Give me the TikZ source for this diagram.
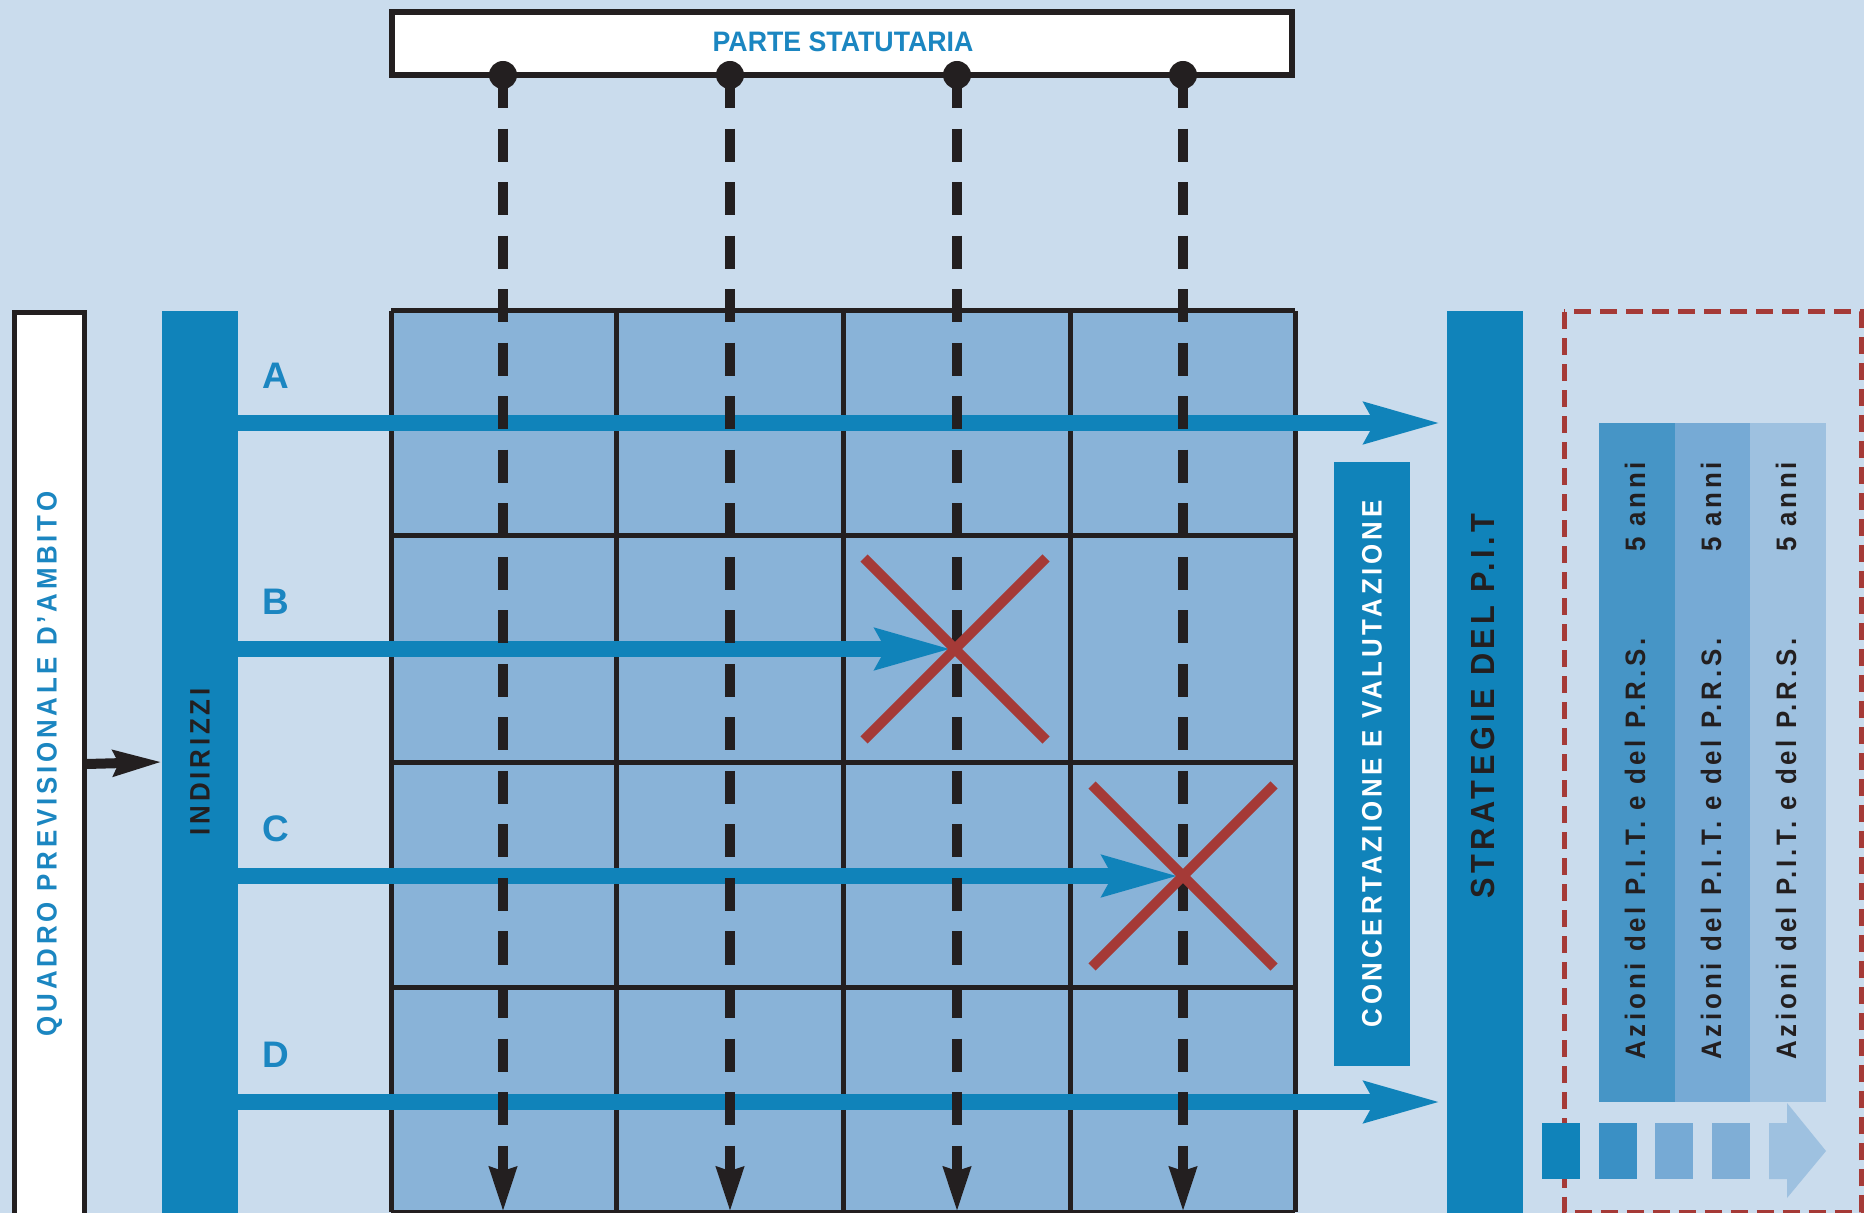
\documentclass[tikz,border=0pt]{standalone}
\usepackage{fontspec}
\setmainfont{Liberation Sans}
\newfontfamily\condfont{Liberation Sans}[FakeStretch=0.92,LetterSpace=13.5]
\newfontfamily\headfont{Liberation Sans}[FakeStretch=0.95]
\usetikzlibrary{arrows.meta}

\definecolor{bgblue}{HTML}{CADCED}
\definecolor{cellblue}{HTML}{89B3D8}
\definecolor{pitblue}{HTML}{1083BA}
\definecolor{txtblue}{HTML}{1B86C1}
\definecolor{crossred}{HTML}{A53A37}
\definecolor{inkblack}{HTML}{231F20}
\definecolor{stepA}{HTML}{4695C6}
\definecolor{stepB}{HTML}{76AAD5}
\definecolor{stepC}{HTML}{9EC1E0}
\definecolor{sqB}{HTML}{3A90C5}
\definecolor{sqD}{HTML}{7FAED6}

\tikzset{
  celline/.style={draw=inkblack, line width=0.5mm},
  bar/.style={fill=pitblue, inner sep=0, outer sep=0},
  whitebox/.style={draw=inkblack, fill=white, line width=0.5mm, inner sep=0},
  flowarrow/.style={pitblue, line width=1.6mm, -{Stealth[length=7.5mm, width=3.9mm, inset=0.9mm]}},
  downarrow/.style={inkblack, line width=1mm, dash pattern=on 3.3mm off 2.05mm, -{Stealth[length=4.4mm, width=2.6mm, inset=0.3mm]}},
  feedarrow/.style={inkblack, line width=1mm, -{Stealth[length=4.8mm, width=2.5mm, inset=0.5mm]}},
  cross/.style={crossred, line width=1mm},
  captxt/.style={font=\condfont\bfseries\fontsize{8}{9}\selectfont, inner sep=0},
  rowlbl/.style={font=\bfseries\fontsize{10.5}{12}\selectfont, text=txtblue, inner sep=0},
  azioni/.style={font=\condfont\bfseries\fontsize{8}{9}\selectfont, text=inkblack, inner sep=0, rotate=90}
}

\begin{document}
\begin{tikzpicture}[x=0.01cm, y=-0.01cm]
 \useasboundingbox (0,0) rectangle (1864,1213);
 \fill[bgblue] (0,0) rectangle (1864,1213);

 % grid
 \fill[cellblue] (391,311) rectangle (1295,1212);
 \foreach \x in {391,616,843,1070,1295}
   \draw[celline] (\x,311) -- (\x,1212);
 \foreach \y in {311,536,762,987,1212}
   \draw[celline] (391,\y) -- (1295,\y);

 % parte statutaria
 \draw[whitebox, line width=0.55mm] (392,12) rectangle (1292,75);
 \node[font=\headfont\bfseries\fontsize{8}{9}\selectfont, text=txtblue, inner sep=0] (statutaria) at (843,42) {PARTE STATUTARIA};

 % side bars
 \node[whitebox, minimum width=6.9mm, minimum height=90.3mm] (quadro) at (49.5,764)
   {\rotatebox{90}{\condfont\bfseries\fontsize{8}{9}\selectfont\color{txtblue}QUADRO PREVISIONALE D’AMBITO}};
 \node[bar, minimum width=7.6mm, minimum height=90.2mm] (indirizzi) at (200,762)
   {\rotatebox{90}{\condfont\bfseries\fontsize{8}{9}\selectfont\color{inkblack}INDIRIZZI}};
 \node[bar, minimum width=7.6mm, minimum height=90.2mm] (strategie) at (1485,762) {};
 \node[captxt, font=\condfont\bfseries\fontsize{9.5}{11}\selectfont, text=inkblack, rotate=90] (strategietxt) at (1483,706) {STRATEGIE DEL P.I.T};
 \node[bar, minimum width=7.6mm, minimum height=60.4mm] (concert) at (1372,764)
   {\rotatebox{90}{\condfont\bfseries\fontsize{8}{9}\selectfont\color{white}CONCERTAZIONE E VALUTAZIONE}};

 \draw[feedarrow] (quadro.east) -- (indirizzi.west);

 % rows
 \coordinate (xB) at (955,649);
 \coordinate (xC) at (1183,876);
 \foreach \lab/\y in {A/423,B/649,C/876,D/1102}
   \node[rowlbl] (lbl\lab) at (276,\y-47) {\lab};
 \draw[flowarrow, shorten >=0.6mm] (indirizzi.east |- 0,423) -- (strategie.west |- 0,423);
 \draw[flowarrow, shorten >=0.3mm] (indirizzi.east |- xB) -- (xB);
 \draw[flowarrow, shorten >=0.4mm] (indirizzi.east |- xC) -- (xC);
 \draw[flowarrow, shorten >=0.6mm] (indirizzi.east |- 0,1102) -- (strategie.west |- 0,1102);

 % columns
 \foreach \x [count=\k] in {503,730,957,1183} {
   \coordinate (top\k) at (\x,75);
   \coordinate (bot\k) at (\x,1212);
   \draw[downarrow] (top\k) -- (bot\k);
   \fill[inkblack] (top\k) circle (1.4mm);
 }

 % crosses
 \foreach \c in {xB,xC}
   \draw[cross] (\c) ++(-91,-91) -- ++(182,182) (\c) ++(91,-91) -- ++(-182,182);

 % azioni
 \draw[crossred, line width=0.5mm, dash pattern=on 1.7mm off 0.9mm] (1564,312) rectangle (1861,1212);
 \foreach \x/\c [count=\k] in {1599/stepA,1675/stepB,1750/stepC} {
   \fill[\c] (\x,423) rectangle ++(76,679);
   \node[azioni] (azioni\k) at (\x+36,849) {Azioni del P.I.T. e del P.R.S.};
   \node[azioni] (anni\k) at (\x+36,507) {5 anni};
 }
 \foreach \x/\c in {1542/pitblue,1599/sqB,1655/stepB,1712/sqD}
   \fill[\c] (\x,1123) rectangle ++(38,56);
 \fill[stepC] (1769,1123) -- (1787,1123) -- (1787,1103) -- (1826,1151)
   -- (1787,1198) -- (1787,1179) -- (1769,1179) -- cycle;

\end{tikzpicture}
\end{document}
